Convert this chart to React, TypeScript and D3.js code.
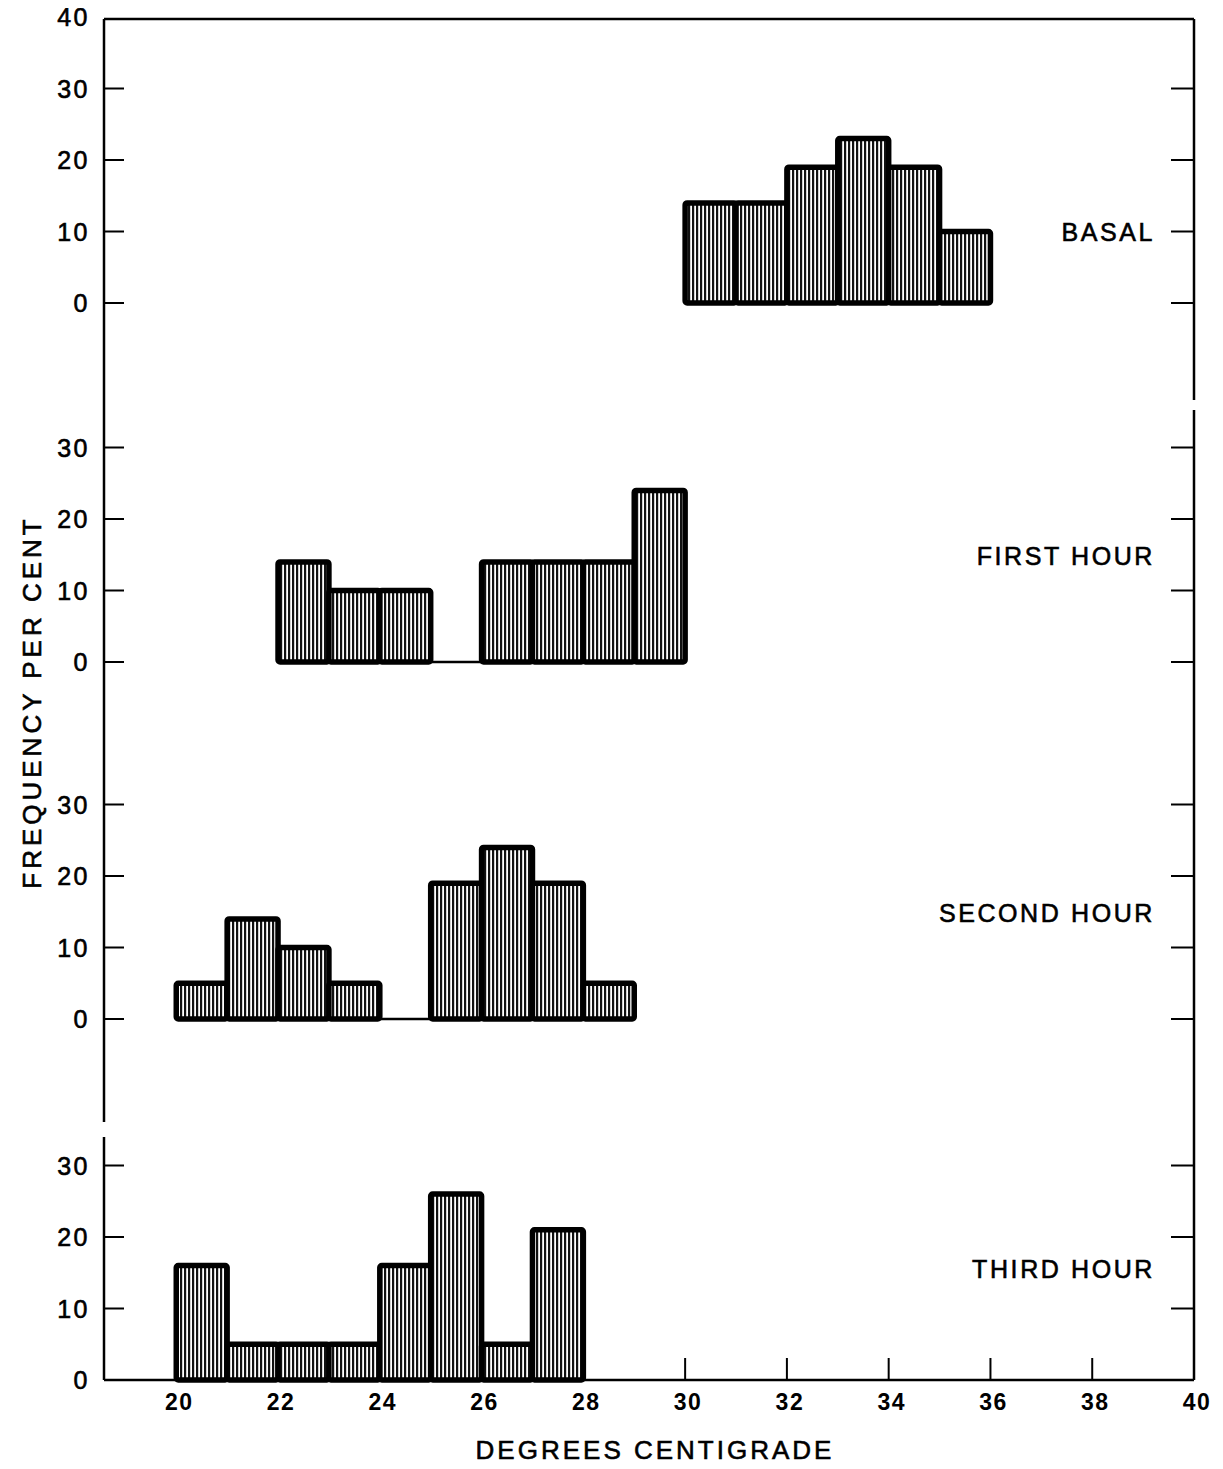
import React from "react";
import * as d3 from "d3";

const panels = ["BASAL", "FIRST HOUR", "SECOND HOUR", "THIRD HOUR"];
const basalStart = [30, 31, 32, 33, 34, 35];
const basalValues = [14, 14, 19, 23, 19, 10];
const firstStart = [22, 23, 24, 25, 26, 27, 28, 29];
const firstValues = [14, 10, 10, 0, 14, 14, 14, 24];
const secondStart = [20, 21, 22, 23, 24, 25, 26, 27, 28];
const secondValues = [5, 14, 10, 5, 0, 19, 24, 19, 5];
const thirdStart = [20, 21, 22, 23, 24, 25, 26, 27];
const thirdValues = [16, 5, 5, 5, 16, 26, 5, 21];
const xTickLabels = [20, 22, 24, 26, 28, 30, 32, 34, 36, 38, 40];
const xTickMarks = [30, 32, 34, 36, 38];
const yTicksTop = [0, 10, 20, 30, 40];
const yTicks = [0, 10, 20, 30];

const W = 1223;
const H = 1469;
const FONT = "'Liberation Sans', Arial, sans-serif";

export default function App() {
  const left = 104;
  const right = 1194;
  const top = 19;
  const bottom = 1380;
  const x = d3.scaleLinear().domain([18.58, 40]).range([left, right]);
  const bases = [303, 662, 1019, 1380];
  const ys = bases.map((b) => d3.scaleLinear().domain([0, 40]).range([b, b - 286]));
  const series = [
    { s: basalStart, v: basalValues },
    { s: firstStart, v: firstValues },
    { s: secondStart, v: secondValues },
    { s: thirdStart, v: thirdValues },
  ];

  return (
    <svg width={W} height={H} style={{ display: "block", margin: "-8px", background: "#fff" }}>
      <defs>
        <pattern id="hatch" width={4} height={8} patternUnits="userSpaceOnUse">
          <rect x={0} y={0} width={4} height={8} fill="#fff" />
          <rect x={0} y={0} width={2.2} height={8} fill="#111" />
        </pattern>
      </defs>
      <rect x={0} y={0} width={W} height={H} fill="#fff" />

      {/* frame */}
      <g stroke="#000" strokeWidth={2.5} fill="none">
        <line x1={left} y1={top} x2={right} y2={top} />
        <line x1={left} y1={top} x2={left} y2={1122} />
        <line x1={left} y1={1137} x2={left} y2={bottom} />
        <line x1={right} y1={top} x2={right} y2={400} />
        <line x1={right} y1={410} x2={right} y2={bottom} />
        <line x1={left} y1={bottom} x2={right} y2={bottom} />
      </g>

      {/* bars */}
      {series.map((ser, pi) => (
        <g key={pi}>
          {ser.s.map((s, i) => {
            const y = ys[pi];
            const x0 = x(s);
            const x1 = x(s + 1);
            const yt = y(ser.v[i]);
            const yb = y(0);
            if (ser.v[i] === 0) {
              return (
                <line key={i} x1={x0} x2={x1} y1={yb} y2={yb} stroke="#000" strokeWidth={2.5} />
              );
            }
            return (
              <rect
                key={i}
                x={x0}
                y={yt}
                width={x1 - x0}
                height={yb - yt}
                fill="url(#hatch)"
                stroke="#000"
                strokeWidth={5.5}
                strokeLinejoin="round"
                rx={2}
              />
            );
          })}
        </g>
      ))}

      {/* y ticks left and right */}
      {ys.map((y, pi) => {
        const ticks = pi === 0 ? yTicksTop : yTicks;
        return (
          <g key={pi}>
            {ticks.map((t) => (
              <g key={t}>
                {t !== 40 && (
                  <line x1={left} x2={left + 20} y1={y(t)} y2={y(t)} stroke="#000" strokeWidth={2} />
                )}
                {t !== 40 && !(pi === 3 && t === 0) && (
                  <line x1={right - 23} x2={right} y1={y(t)} y2={y(t)} stroke="#000" strokeWidth={2} />
                )}
                <text
                  x={left - 14}
                  y={y(t)}
                  dy="0.36em"
                  textAnchor="end"
                  fontFamily={FONT}
                  fontSize={25}
                  letterSpacing={2.5}
                  fill="#000"
                  stroke="#000"
                  strokeWidth={0.6}
                >
                  {t}
                </text>
              </g>
            ))}
            <text
              x={1155}
              y={(y(10) + y(0)) / 2 + (pi === 0 ? -35 : pi === 3 ? -75 : -70)}
              dy="0.36em"
              textAnchor="end"
              fontFamily={FONT}
              fontSize={25}
              letterSpacing={2.6}
              fill="#000"
              stroke="#000"
              strokeWidth={0.6}
            >
              {panels[pi]}
            </text>
          </g>
        );
      })}

      {/* x ticks */}
      {xTickMarks.map((t) => (
        <line key={t} x1={x(t)} x2={x(t)} y1={bottom} y2={bottom - 22} stroke="#000" strokeWidth={2} />
      ))}
      {xTickLabels.map((t) => (
        <text
          key={t}
          x={x(t) + 3}
          y={1402}
          dy="0.36em"
          textAnchor="middle"
          fontFamily={FONT}
          fontSize={23}
          fontWeight="bold"
          letterSpacing={1.5}
          fill="#000"
        >
          {t}
        </text>
      ))}

      <text
        x={655}
        y={1450}
        dy="0.36em"
        textAnchor="middle"
        fontFamily={FONT}
        fontSize={26}
        letterSpacing={3}
        fill="#000"
        stroke="#000"
        strokeWidth={0.6}
      >
        DEGREES CENTIGRADE
      </text>
      <text
        transform="translate(32,702) rotate(-90)"
        dy="0.36em"
        textAnchor="middle"
        fontFamily={FONT}
        fontSize={26}
        letterSpacing={4}
        fill="#000"
        stroke="#000"
        strokeWidth={0.6}
      >
        FREQUENCY PER CENT
      </text>
    </svg>
  );
}
